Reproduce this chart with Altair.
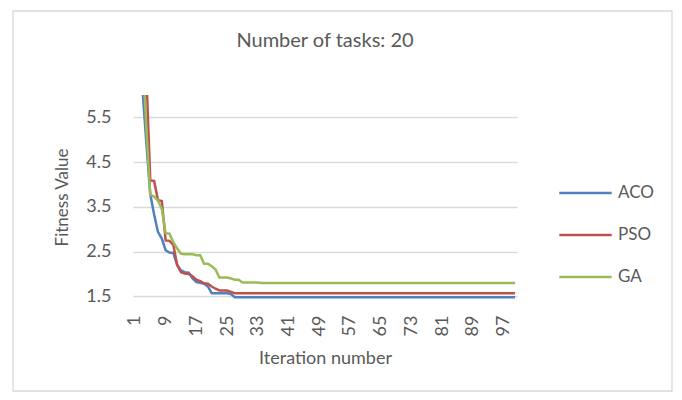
import altair as alt
import pandas as pd

iterations = list(range(1, 101))

aco = [
    9.5, 7.8, 6.1, 4.9, 3.78, 3.33, 2.94, 2.79, 2.53, 2.48,
    2.47, 2.2, 2.08, 2.04, 2.03, 1.9, 1.82, 1.8, 1.78, 1.72,
    1.57, 1.57, 1.57, 1.57, 1.57, 1.55, 1.48, 1.48, 1.48, 1.48,
    1.48, 1.48, 1.48, 1.48, 1.48, 1.48, 1.48, 1.48, 1.48, 1.48,
    1.48, 1.48, 1.48, 1.48, 1.48, 1.48, 1.48, 1.48, 1.48, 1.48,
    1.48, 1.48, 1.48, 1.48, 1.48, 1.48, 1.48, 1.48, 1.48, 1.48,
    1.48, 1.48, 1.48, 1.48, 1.48, 1.48, 1.48, 1.48, 1.48, 1.48,
    1.48, 1.48, 1.48, 1.48, 1.48, 1.48, 1.48, 1.48, 1.48, 1.48,
    1.48, 1.48, 1.48, 1.48, 1.48, 1.48, 1.48, 1.48, 1.48, 1.48,
    1.48, 1.48, 1.48, 1.48, 1.48, 1.48, 1.48, 1.48, 1.48, 1.48,
]

pso = [
    12.0, 10.0, 8.2, 6.4, 4.09, 4.08, 3.65, 3.63, 2.75, 2.74,
    2.65, 2.2, 2.04, 2.01, 2.0, 1.95, 1.87, 1.84, 1.79, 1.78,
    1.72, 1.67, 1.63, 1.63, 1.63, 1.6, 1.57, 1.57, 1.57, 1.57,
    1.57, 1.57, 1.57, 1.57, 1.57, 1.57, 1.57, 1.57, 1.57, 1.57,
    1.57, 1.57, 1.57, 1.57, 1.57, 1.57, 1.57, 1.57, 1.57, 1.57,
    1.57, 1.57, 1.57, 1.57, 1.57, 1.57, 1.57, 1.57, 1.57, 1.57,
    1.57, 1.57, 1.57, 1.57, 1.57, 1.57, 1.57, 1.57, 1.57, 1.57,
    1.57, 1.57, 1.57, 1.57, 1.57, 1.57, 1.57, 1.57, 1.57, 1.57,
    1.57, 1.57, 1.57, 1.57, 1.57, 1.57, 1.57, 1.57, 1.57, 1.57,
    1.57, 1.57, 1.57, 1.57, 1.57, 1.57, 1.57, 1.57, 1.57, 1.57,
]

ga = [
    11.0, 9.0, 7.0, 5.2, 3.77, 3.73, 3.64, 3.45, 2.91, 2.9,
    2.71, 2.57, 2.45, 2.44, 2.44, 2.44, 2.42, 2.42, 2.23, 2.23,
    2.17, 2.1, 1.92, 1.92, 1.92, 1.9, 1.87, 1.87, 1.81, 1.81,
    1.81, 1.81, 1.81, 1.8, 1.8, 1.8, 1.8, 1.8, 1.8, 1.8,
    1.8, 1.8, 1.8, 1.8, 1.8, 1.8, 1.8, 1.8, 1.8, 1.8,
    1.8, 1.8, 1.8, 1.8, 1.8, 1.8, 1.8, 1.8, 1.8, 1.8,
    1.8, 1.8, 1.8, 1.8, 1.8, 1.8, 1.8, 1.8, 1.8, 1.8,
    1.8, 1.8, 1.8, 1.8, 1.8, 1.8, 1.8, 1.8, 1.8, 1.8,
    1.8, 1.8, 1.8, 1.8, 1.8, 1.8, 1.8, 1.8, 1.8, 1.8,
    1.8, 1.8, 1.8, 1.8, 1.8, 1.8, 1.8, 1.8, 1.8, 1.8,
]

series_names = ["ACO", "PSO", "GA"]
series_colors = ["#4F81BD", "#C0504D", "#9BBB59"]
x_tick_labels = [1, 9, 17, 25, 33, 41, 49, 57, 65, 73, 81, 89, 97]
y_ticks = [1.5, 2.5, 3.5, 4.5, 5.5]

rows = []
for name, vals in zip(series_names, [aco, pso, ga]):
    for it, v in zip(iterations, vals):
        rows.append({"Iteration": it, "Fitness": v, "Algorithm": name})
df = pd.DataFrame(rows)

TXT = "#595959"
FONT = "Lato"

x_enc = alt.X(
    "Iteration:O",
    sort=iterations,
    axis=alt.Axis(
        values=x_tick_labels,
        labelAngle=270,
        labelAlign="right",
        labelBaseline="middle",
        labelOverlap=False,
        labelPadding=16,
        labelFontSize=18,
        labelColor=TXT,
        labelFont=FONT,
        ticks=False,
        domain=False,
        grid=False,
        title="Iteration number",
        titleFontSize=18,
        titleFont=FONT,
        titleColor=TXT,
        titleFontWeight="normal",
        titlePadding=14,
    ),
)

y_enc = alt.Y(
    "Fitness:Q",
    scale=alt.Scale(domain=[1.44, 6.0], nice=False, zero=False),
    axis=alt.Axis(
        values=y_ticks,
        format=".1f",
        grid=True,
        gridColor="#d9d9d9",
        gridWidth=1.3,
        domain=False,
        ticks=False,
        tickSize=0,
        labelPadding=22,
        labelFontSize=18,
        labelColor=TXT,
        labelFont=FONT,
        title="Fitness Value",
        titleFontSize=17,
        titleFont=FONT,
        titleColor=TXT,
        titleFontWeight="normal",
        titlePadding=14,
    ),
)

color_enc = alt.Color(
    "Algorithm:N",
    scale=alt.Scale(domain=series_names, range=series_colors),
    legend=alt.Legend(
        title=None,
        orient="none",
        legendX=425,
        legendY=77,
        symbolType="stroke",
        symbolSize=2746,
        symbolStrokeWidth=2.5,
        labelFontSize=17,
        labelFont=FONT,
        labelColor=TXT,
        labelOffset=5,
        clipHeight=42,
        rowPadding=0,
        padding=0,
    ),
)

layers = []
border = alt.Chart(alt.Data(values=[{"frame": 1}])).mark_rect(
    fillOpacity=0, stroke="#d9d9d9", strokeWidth=1.3
).encode(
    x=alt.value(-120), x2=alt.value(539), y=alt.value(-84), y2=alt.value(296)
)
layers.append(border)
for name in series_names:
    layers.append(
        alt.Chart(df)
        .transform_filter(alt.datum.Algorithm == name)
        .mark_line(clip=True, strokeWidth=2.5)
        .encode(x=x_enc, y=y_enc, color=color_enc)
    )

chart = (
    alt.layer(*layers)
    .properties(
        width=384,
        height=204,
        autosize=alt.AutoSizeParams(type="none"),
        padding={"left": 125, "top": 87, "right": 157, "bottom": 93},
        title=alt.TitleParams(
            "Number of tasks: 20",
            fontSize=20,
            font=FONT,
            color=TXT,
            fontWeight="normal",
            anchor="middle",
            offset=-41,
        ),
    )
    .configure_view(strokeWidth=0)
)

chart.save("out.html", embed_options={"renderer": "svg", "actions": False})
